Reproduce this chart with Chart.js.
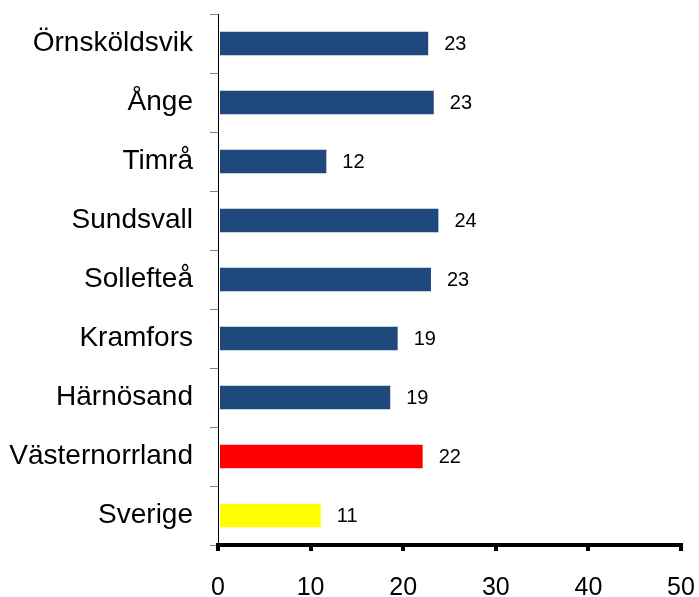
<!DOCTYPE html>
<html>
<head>
<meta charset="utf-8">
<script src="https://cdn.jsdelivr.net/npm/chart.js@4/dist/chart.umd.min.js"></script>
<style>
  html, body { margin: 0; padding: 0; background: #fff; }
  #wrap { width: 699px; height: 597px; }
</style>
</head>
<body>
<div id="wrap"><canvas id="barChart" width="699" height="597"></canvas></div>
<script>
const kommuner = ['Örnsköldsvik', 'Ånge', 'Timrå', 'Sundsvall', 'Sollefteå', 'Kramfors', 'Härnösand', 'Västernorrland', 'Sverige'];
const andel = [22.7, 23.3, 11.7, 23.8, 23.0, 19.4, 18.6, 22.1, 11.1];
const barFarger = ['#1f497d', '#1f497d', '#1f497d', '#1f497d', '#1f497d', '#1f497d', '#1f497d', '#ff0000', '#ffff00'];
const xTicks = [0, 10, 20, 30, 40, 50];

// labels to the right of each bar
const valueLabels = {
  id: 'valueLabels',
  afterDatasetsDraw(chart) {
    const ctx = chart.ctx;
    const meta = chart.getDatasetMeta(0);
    ctx.save();
    ctx.font = '20px "Liberation Sans", Arial, sans-serif';
    ctx.fillStyle = '#000';
    ctx.textAlign = 'left';
    ctx.textBaseline = 'middle';
    meta.data.forEach((bar, i) => {
      ctx.fillText(Math.round(andel[i]), bar.x + 16, bar.y + 1);
    });
    ctx.restore();
  }
};

new Chart(document.getElementById('barChart').getContext('2d'), {
  type: 'bar',
  data: {
    labels: kommuner,
    datasets: [{
      data: andel,
      backgroundColor: barFarger,
      borderWidth: 0,
      barPercentage: 0.4,
      categoryPercentage: 1
    }]
  },
  options: {
    indexAxis: 'y',
    responsive: false,
    animation: false,
    layout: { padding: { top: 14, right: 18, left: 0, bottom: 0 } },
    plugins: { legend: { display: false }, tooltip: { enabled: false } },
    scales: {
      x: {
        min: 0,
        max: 50,
        afterBuildTicks(scale) { scale.ticks = xTicks.map(v => ({ value: v })); },
        afterFit(scale) {
          scale.height = 52;
          scale.paddingLeft = 0;
          scale.paddingRight = 0;
        },
        border: { display: true, color: '#000', width: 4 },
        grid: { drawOnChartArea: false, drawTicks: true, tickLength: 6, color: '#000', lineWidth: 4 },
        ticks: {
          color: '#000',
          padding: 22,
          font: { family: '"Liberation Sans", Arial, sans-serif', size: 25 }
        }
      },
      y: {
        afterFit(scale) {
          scale.width = 218;
          scale.paddingTop = 0;
          scale.paddingBottom = 0;
        },
        border: { display: true, color: '#000', width: 1 },
        grid: { drawOnChartArea: false, drawTicks: true, tickLength: 8, color: '#808080', offset: true },
        ticks: {
          color: '#000',
          padding: 17,
          font: { family: '"Liberation Sans", Arial, sans-serif', size: 28 }
        }
      }
    }
  },
  plugins: [valueLabels]
});
</script>
</body>
</html>
